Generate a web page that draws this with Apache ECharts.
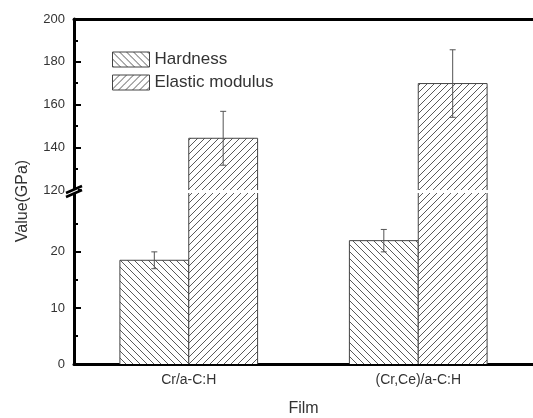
<!DOCTYPE html>
<html>
<head>
<meta charset="utf-8">
<script src="https://cdn.jsdelivr.net/npm/echarts@6/dist/echarts.min.js"></script>
<style>
html,body{margin:0;padding:0;background:#fff;}
#chart{width:533px;height:418px;}
</style>
</head>
<body>
<div id="chart"></div>
<script>
// ---- data ----
const categories = ['Cr/a-C:H', '(Cr,Ce)/a-C:H'];
const seriesNames = ['Hardness', 'Elastic modulus'];
const hardness = [18.5, 22.0];
const hardnessErr = [1.5, 2.0];
const elastic = [144.2, 169.8];
const elasticErr = [12.6, 15.8];
const upperTicks = [120, 140, 160, 180, 200];
const lowerTicks = [0, 10, 20];
const lowerMinorTicks = [5, 15, 25];

// ---- hatch patterns ----
function hatch(dir, s) {
  const c = document.createElement('canvas');
  c.width = s; c.height = s;
  const g = c.getContext('2d');
  g.fillStyle = '#fff';
  g.fillRect(0, 0, s, s);
  g.strokeStyle = '#5a5a5a';
  g.lineWidth = 1;
  g.beginPath();
  for (let k = -1; k <= 1; k++) {
    if (dir === 'back') { g.moveTo(k * s, 0); g.lineTo(k * s + s, s); }
    else { g.moveTo(k * s, s); g.lineTo(k * s + s, 0); }
  }
  g.stroke();
  return c;
}
const patH = { image: hatch('back', 7), repeat: 'repeat' };
const patE = { image: hatch('fwd', 7), repeat: 'repeat' };

function barRender(side, pattern) {
  return function (params, api) {
    const cs = params.coordSys;
    const cat = api.value(0), val = api.value(1), err = api.value(2);
    const band = api.size([1, 0])[0];
    const bw = band * 0.3;
    const bottom = cs.y + cs.height;
    const c = api.coord([cat, val]);
    const children = [];
    const top = Math.max(c[1], cs.y);
    if (top < bottom) {
      const x0 = c[0] + (side === 0 ? -bw : 0);
      children.push({ type: 'rect', shape: { x: x0, y: top, width: bw, height: bottom - top },
        style: { fill: pattern, stroke: null } });
      if (c[1] >= cs.y) {
        children.push({ type: 'polyline', shape: { points: [[x0, bottom], [x0, top], [x0 + bw, top], [x0 + bw, bottom]] },
          style: { fill: null, stroke: '#444', lineWidth: 1 } });
      } else {
        children.push({ type: 'line', shape: { x1: x0, y1: top, x2: x0, y2: bottom }, style: { stroke: '#444', lineWidth: 1 } });
        children.push({ type: 'line', shape: { x1: x0 + bw, y1: top, x2: x0 + bw, y2: bottom }, style: { stroke: '#444', lineWidth: 1 } });
      }
      const hi = api.coord([cat, val + err]);
      const lo = api.coord([cat, val - err]);
      if (hi[1] >= cs.y && lo[1] <= bottom) {
        const xc = x0 + bw / 2;
        children.push({ type: 'line', shape: { x1: xc, y1: hi[1], x2: xc, y2: lo[1] }, style: { stroke: '#555', lineWidth: 1 } });
        children.push({ type: 'line', shape: { x1: xc - 3, y1: hi[1], x2: xc + 3, y2: hi[1] }, style: { stroke: '#555', lineWidth: 1 } });
        children.push({ type: 'line', shape: { x1: xc - 3, y1: lo[1], x2: xc + 3, y2: lo[1] }, style: { stroke: '#555', lineWidth: 1 } });
      }
    }
    return { type: 'group', children: children };
  };
}

const hData = hardness.map((v, i) => [i, v, hardnessErr[i]]);
const eData = elastic.map((v, i) => [i, v, elasticErr[i]]);

function barSeries(name, side, pattern, data, gi) {
  return {
    type: 'custom', name: name, xAxisIndex: gi, yAxisIndex: gi,
    renderItem: barRender(side, pattern), data: data,
    encode: { x: 0, y: 1 }, clip: false, silent: true,
    itemStyle: { color: pattern, borderColor: '#444' }
  };
}

const axisBlack = { lineStyle: { color: '#000', width: 3 } };
const labelStyle = { color: '#333', fontSize: 13 };

const chart = echarts.init(document.getElementById('chart'));
chart.setOption({
  animation: false,
  backgroundColor: '#fff',
  grid: [
    { left: 74, top: 19, width: 470, height: 171 },
    { left: 74, top: 193, width: 470, height: 171 }
  ],
  xAxis: [
    { gridIndex: 0, type: 'category', data: categories, position: 'top',
      axisLine: axisBlack, axisTick: { show: false }, axisLabel: { show: false }, splitLine: { show: false } },
    { gridIndex: 1, type: 'category', data: categories, position: 'bottom',
      axisLine: axisBlack, axisTick: { show: false },
      axisLabel: { color: '#333', fontSize: 14, margin: 9 },
      name: 'Film', nameLocation: 'middle', nameGap: 37,
      nameTextStyle: { color: '#333', fontSize: 16 } }
  ],
  yAxis: [
    { gridIndex: 0, type: 'value', min: upperTicks[0], max: upperTicks[upperTicks.length - 1], interval: 20,
      axisLine: { show: true, lineStyle: { color: '#000', width: 3 } },
      axisTick: { show: true, inside: true, length: 7, lineStyle: { color: '#000', width: 2 } },
      minorTick: { show: true, splitNumber: 2, length: 4, lineStyle: { color: '#000', width: 2 } },
      axisLabel: Object.assign({ margin: 9 }, labelStyle),
      splitLine: { show: false } },
    { gridIndex: 1, type: 'value', min: 0, max: 30.5,
      axisLine: { show: true, lineStyle: { color: '#000', width: 3 } },
      axisTick: { show: true, inside: true, length: 7, customValues: lowerTicks, lineStyle: { color: '#000', width: 2 } },
      axisLabel: Object.assign({ margin: 9, customValues: lowerTicks }, labelStyle),
      splitLine: { show: false } },
    { gridIndex: 1, type: 'value', min: 0, max: 30.5, position: 'left', offset: 0,
      axisLine: { show: false },
      axisTick: { show: true, inside: true, length: 4, customValues: lowerMinorTicks, lineStyle: { color: '#000', width: 2 } },
      axisLabel: { show: false }, splitLine: { show: false } }
  ],
  legend: {
    orient: 'vertical', left: 112, top: 51, itemWidth: 37, itemHeight: 15, itemGap: 6,
    selectedMode: false, padding: 0,
    textStyle: { color: '#333', fontSize: 17 },
    data: [
      { name: seriesNames[0], icon: 'rect', itemStyle: { color: patH, borderColor: '#444', borderWidth: 1 } },
      { name: seriesNames[1], icon: 'rect', itemStyle: { color: patE, borderColor: '#444', borderWidth: 1 } }
    ]
  },
  graphic: [
    { type: 'text', x: 23, y: 201, rotation: Math.PI / 2,
      style: { text: 'Value(GPa)', fontSize: 16, fill: '#333', align: 'center', verticalAlign: 'middle' } },
    { type: 'rect', shape: { x: 70, y: 189, width: 8, height: 5 }, style: { fill: '#fff' }, z: 100 },
    { type: 'line', shape: { x1: 66, y1: 193, x2: 82, y2: 186 }, style: { stroke: '#000', lineWidth: 2.5 }, z: 101 },
    { type: 'line', shape: { x1: 66, y1: 197, x2: 82, y2: 190 }, style: { stroke: '#000', lineWidth: 2.5 }, z: 101 }
  ],
  series: [
    barSeries(seriesNames[0], 0, patH, hData, 0),
    barSeries(seriesNames[1], 1, patE, eData, 0),
    barSeries(seriesNames[0], 0, patH, hData, 1),
    barSeries(seriesNames[1], 1, patE, eData, 1)
  ]
});
</script>
</body>
</html>
